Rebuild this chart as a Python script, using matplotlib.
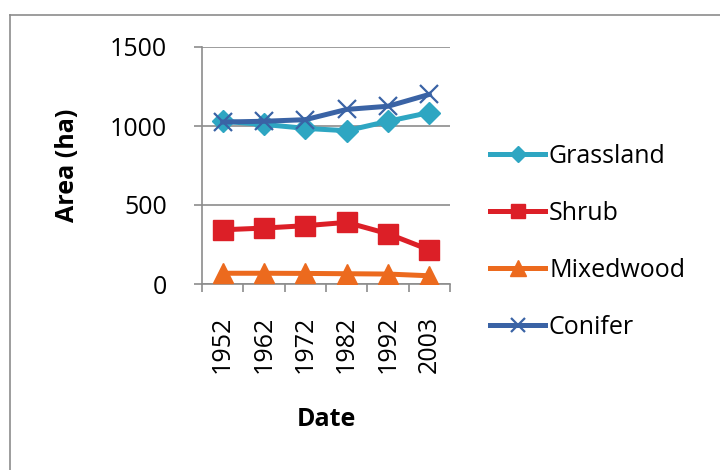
import matplotlib
matplotlib.use("Agg")
import matplotlib.pyplot as plt
from matplotlib.lines import Line2D

years = ["1952", "1962", "1972", "1982", "1992", "2003"]
grassland = [1030, 1010, 985, 970, 1030, 1085]
shrub = [343, 354, 369, 390, 318, 216]
mixedwood = [68, 68, 67, 65, 63, 52]
conifer = [1025, 1030, 1040, 1105, 1125, 1200]

y_ticks = [0, 500, 1000, 1500]

plt.rcParams['font.family'] = ['Open Sans', 'DejaVu Sans']
FS = 18

fig = plt.figure(figsize=(7.2, 4.7), dpi=100)
ax = fig.add_axes([202/720, 1-284/470, (450-202)/720, (284-47)/470])

x = list(range(len(years)))
lw = 3.6
ax.plot(x, grassland, color='#2EA6C2', lw=lw, marker='D', ms=11, label='Grassland', zorder=3)
ax.plot(x, shrub, color='#DC1F27', lw=lw, marker='s', ms=14, label='Shrub', zorder=3)
ax.plot(x, mixedwood, color='#EC6A1E', lw=lw, marker='^', ms=15, label='Mixedwood', zorder=3)
ax.plot(x, conifer, color='#3A63A5', lw=lw, marker='x', ms=13, mew=1.6, label='Conifer', zorder=4)

ax.set_xlim(-0.5, len(years)-0.5)
ax.set_ylim(0, 1500)
ax.set_yticks(y_ticks)
ax.set_yticklabels([str(v) for v in y_ticks], fontsize=FS)
ax.yaxis.grid(True, color='#8C8C8C', lw=1.2)
ax.set_axisbelow(True)

ax.set_xticks(x)
ax.set_xticklabels(years, rotation=90, fontsize=FS)
ax.set_xticks([i + 0.5 for i in range(-1, len(years))], minor=True)
ax.tick_params(axis='x', which='major', length=0, pad=23)
ax.tick_params(axis='x', which='minor', length=6, color='#8C8C8C', width=1.2)
ax.tick_params(axis='y', length=6, color='#8C8C8C', width=1.2, pad=19)

for s in ['top', 'right']:
    ax.spines[s].set_visible(False)
for s in ['left', 'bottom']:
    ax.spines[s].set_color('#8C8C8C')
    ax.spines[s].set_linewidth(1.2)

ax.set_ylabel('Area (ha)', fontsize=FS, fontweight='bold', labelpad=22)
ax.set_xlabel('Date', fontsize=FS, fontweight='bold', labelpad=24)

leg = fig.legend(loc='upper left', bbox_to_anchor=(490/720, 1-144/470), frameon=False,
                 fontsize=FS, handlelength=2.2, handletextpad=0.16, labelspacing=1.28,
                 borderaxespad=0, borderpad=0, markerscale=0.75)

fig.add_artist(Line2D([10/720, 10/720], [0, 1-15/470], color='#8C8C8C', lw=1.2))
fig.add_artist(Line2D([10/720, 1], [1-15/470, 1-15/470], color='#8C8C8C', lw=1.2))

fig.savefig('out.png', dpi=100)
